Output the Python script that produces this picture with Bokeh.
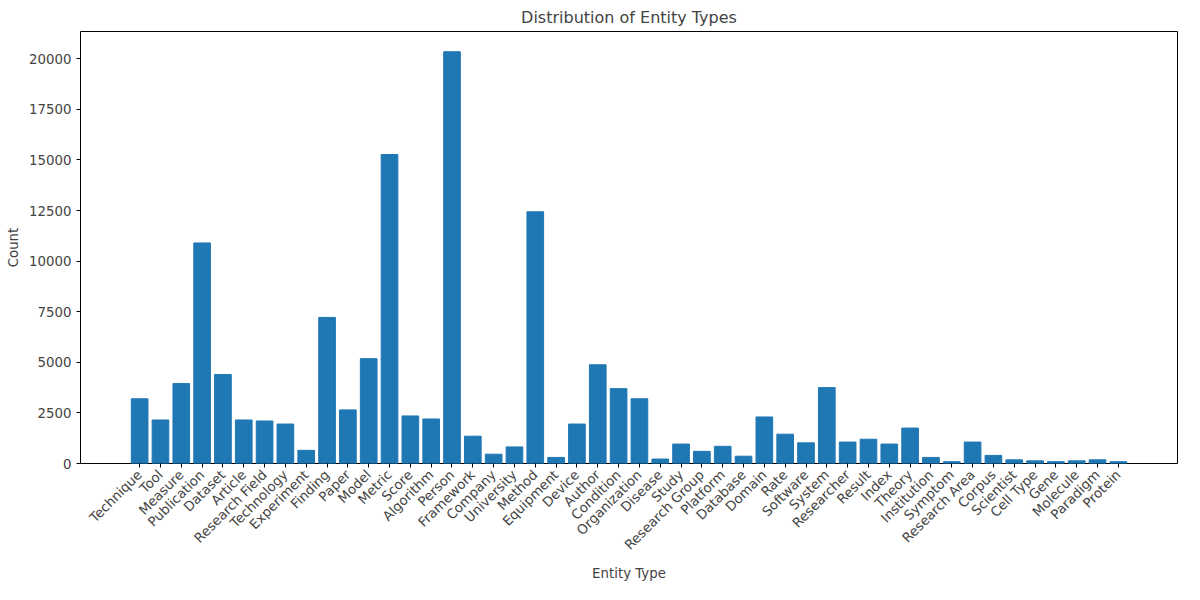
import math
from bokeh.plotting import figure
from bokeh.models import FixedTicker, Range1d
from bokeh.embed import file_html
from bokeh.resources import INLINE

entity_types = ["Technique", "Tool", "Measure", "Publication", "Dataset", "Article",
                "Research Field", "Technology", "Experiment", "Finding", "Paper", "Model",
                "Metric", "Score", "Algorithm", "Person", "Framework", "Company",
                "University", "Method", "Equipment", "Device", "Author", "Condition",
                "Organization", "Disease", "Study", "Research Group", "Platform", "Database",
                "Domain", "Rate", "Software", "System", "Researcher", "Result", "Index",
                "Theory", "Institution", "Symptom", "Research Area", "Corpus", "Scientist",
                "Cell Type", "Gene", "Molecule", "Paradigm", "Protein"]
counts = [3200, 2150, 3950, 10900, 4400, 2150, 2100, 1950, 650, 7220, 2650, 5180,
          15270, 2350, 2200, 20350, 1350, 460, 820, 12440, 300, 1950, 4880, 3700,
          3200, 220, 960, 600, 850, 360, 2300, 1450, 1020, 3750, 1060, 1200, 960,
          1750, 300, 90, 1060, 400, 180, 130, 90, 130, 180, 90]

xs = list(range(len(entity_types)))

p = figure(width=1184, height=584, output_backend="svg", toolbar_location=None,
           title="Distribution of Entity Types",
           x_range=Range1d(-2.84, len(xs) - 1 + 2.84), y_range=Range1d(0, 21350),
           min_border_left=80, min_border_right=7, min_border_top=30, min_border_bottom=110)
p.vbar(x=xs, top=counts, width=0.8, color="#1f77b4")

p.title.align = "center"
p.title.text_font = "DejaVu Sans"
p.title.text_font_size = "12pt"
p.title.text_font_style = "normal"

p.xaxis.ticker = FixedTicker(ticks=xs)
p.xaxis.major_label_overrides = {i: t for i, t in enumerate(entity_types)}
p.xaxis.major_label_orientation = math.pi / 4
p.yaxis.ticker = FixedTicker(ticks=[0, 2500, 5000, 7500, 10000, 12500, 15000, 17500, 20000])
p.xaxis.axis_label = "Entity Type"
p.yaxis.axis_label = "Count"
for ax in (p.xaxis, p.yaxis):
    ax.axis_label_text_font = "DejaVu Sans"
    ax.axis_label_text_font_style = "normal"
    ax.axis_label_text_font_size = "10pt"
    ax.major_label_text_font = "DejaVu Sans"
    ax.major_label_text_font_size = "10pt"
    ax.minor_tick_line_color = None
    ax.major_tick_out = 4
    ax.major_tick_in = 0
    ax.axis_line_color = None
p.xgrid.visible = False
p.ygrid.visible = False
p.outline_line_color = "black"
p.outline_line_alpha = 1

open("out.html", "w").write(file_html(p, INLINE))
